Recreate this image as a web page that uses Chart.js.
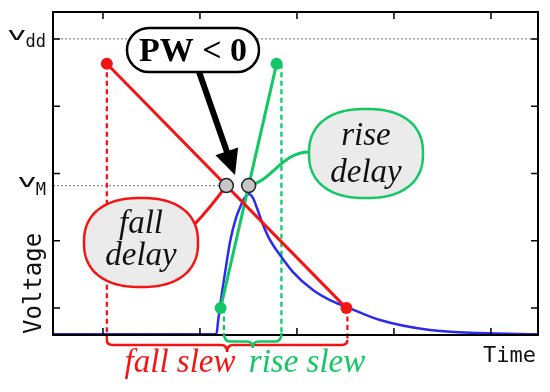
<!DOCTYPE html>
<html>
<head>
<meta charset="utf-8">
<script src="https://cdn.jsdelivr.net/npm/chart.js@4/dist/chart.umd.min.js"></script>
<style>
  body { margin: 0; background: #fff; }
</style>
</head>
<body>
<canvas id="myChart" width="550" height="392"></canvas>
<script>
// values, in tick units (ticks at 0..4 on both axes)
var xTicks = [0, 1, 2, 3, 4];
var yTicks = [0, 1, 2, 3, 4];
var vdd = 4.0;
var vm = 1.82;
// input ramp (fall) and fitted output ramp (rise)
var fallX = [0.04, 2.51];
var fallY = [3.63, 0.0];
var riseX = [1.213, 1.79];
var riseY = [0.0, 3.63];
// where the slew markers drop down to the braces
var fallSlewX = [0.04, 2.52];
var riseSlewX = [1.247, 1.84];
var fallSlewBottom = -0.475;
var riseSlewBottom = -0.37;
// 50% crossings
var delayX = [1.272, 1.502];
// simulated output waveform
var outX = [-0.515, 1.17, 1.186, 1.206, 1.258, 1.314, 1.371, 1.423, 1.464, 1.505, 1.546, 1.588, 1.639, 1.701, 1.763, 1.825, 1.959, 2.165, 2.34, 2.515, 2.856, 3.371, 3.887, 4.485];
var outY = [-0.387, -0.387, -0.208, 0.015, 0.52, 1.01, 1.337, 1.53, 1.649, 1.694, 1.636, 1.487, 1.279, 1.07, 0.915, 0.788, 0.535, 0.268, 0.119, 0.015, -0.178, -0.327, -0.372, -0.387];

var red = '#f41414', green = '#12c864', blue = '#2b2bef';
var serif = '"Liberation Serif", "DejaVu Serif", serif';
var mono = '"DejaVu Sans Mono", monospace';

function pts(xs, ys) {
  return xs.map(function (x, i) { return {x: x, y: ys[i]}; });
}
function dashed(x, y0, y1, col) {
  return {data: [{x: x, y: y0}, {x: x, y: y1}], showLine: true, borderColor: col, borderWidth: 2.3,
    borderDash: [5, 3.5], pointRadius: 0, clip: false, order: 4};
}

// superellipse outline for the call-outs
function blob(c, cx, cy, a, b, n) {
  c.beginPath();
  for (var i = 0; i <= 120; i++) {
    var t = i / 120 * Math.PI * 2;
    var ct = Math.cos(t), st = Math.sin(t);
    var x = cx + a * Math.sign(ct) * Math.pow(Math.abs(ct), 2 / n);
    var y = cy + b * Math.sign(st) * Math.pow(Math.abs(st), 2 / n);
    if (i === 0) c.moveTo(x, y); else c.lineTo(x, y);
  }
  c.closePath();
}

function bubble(c, x, y, w, h, col, lines, base) {
  c.save();
  blob(c, x + w / 2, y + h / 2, w / 2, h / 2, 2.35);
  c.fillStyle = '#ebebeb';
  c.fill();
  c.lineWidth = 2.5;
  c.strokeStyle = col;
  c.stroke();
  c.fillStyle = '#111';
  c.font = 'italic 33px ' + serif;
  c.textAlign = 'center';
  c.textBaseline = 'alphabetic';
  c.fillText(lines[0], x + w / 2, base[0]);
  c.fillText(lines[1], x + w / 2, base[1]);
  c.restore();
}

function brace(c, x1, x2, yTop, yMid, yTip, col) {
  var xm = (x1 + x2) / 2, r = 6;
  c.save();
  c.beginPath();
  c.moveTo(x1, yTop);
  c.quadraticCurveTo(x1, yMid, x1 + r, yMid);
  c.lineTo(xm - r, yMid);
  c.quadraticCurveTo(xm, yMid, xm, yTip);
  c.quadraticCurveTo(xm, yMid, xm + r, yMid);
  c.lineTo(x2 - r, yMid);
  c.quadraticCurveTo(x2, yMid, x2, yTop);
  c.lineWidth = 2.5;
  c.strokeStyle = col;
  c.stroke();
  c.restore();
}

function subLabel(c, big, small, xr, yb, ys) {
  c.save();
  c.fillStyle = '#111';
  c.textBaseline = 'alphabetic';
  c.textAlign = 'right';
  c.font = '17px ' + mono;
  c.fillText(small, xr, ys);
  var w = c.measureText(small).width;
  c.translate(xr - w + 1, yb);
  c.scale(1.8, 1);
  c.font = '18px ' + mono;
  c.fillText(big, 0, 0);
  c.restore();
}

var connectors = {
  id: 'connectors',
  beforeDatasetsDraw: function (chart) {
    var c = chart.ctx, xs = chart.scales.x, ys = chart.scales.y;
    var y = ys.getPixelForValue(vm);
    var x1 = xs.getPixelForValue(delayX[0]), x2 = xs.getPixelForValue(delayX[1]);
    c.save();
    c.lineWidth = 3;
    c.strokeStyle = red;
    c.beginPath();
    c.moveTo(193, 226);
    c.quadraticCurveTo(211, 207, x1, y);
    c.stroke();
    c.strokeStyle = green;
    c.beginPath();
    c.moveTo(312, 152);
    c.bezierCurveTo(282, 150, 272, 182, x2, y);
    c.stroke();
    c.restore();
  }
};

var decorations = {
  id: 'decorations',
  afterDatasetsDraw: function (chart) {
    var c = chart.ctx, a = chart.chartArea, xs = chart.scales.x, ys = chart.scales.y;
    c.save();
    // frame with inward ticks
    c.strokeStyle = '#000';
    c.lineWidth = 2;
    c.strokeRect(a.left, a.top, a.right - a.left, a.bottom - a.top);
    c.lineWidth = 1.5;
    c.beginPath();
    xTicks.forEach(function (t) {
      var px = xs.getPixelForValue(t);
      c.moveTo(px, a.bottom); c.lineTo(px, a.bottom - 7);
      c.moveTo(px, a.top); c.lineTo(px, a.top + 7);
    });
    yTicks.forEach(function (t) {
      var py = ys.getPixelForValue(t);
      c.moveTo(a.left, py); c.lineTo(a.left + 7, py);
      c.moveTo(a.right, py); c.lineTo(a.right - 7, py);
    });
    c.stroke();

    // axis labels
    subLabel(c, 'v', 'dd', 46, ys.getPixelForValue(vdd) + 1, ys.getPixelForValue(vdd) + 8);
    subLabel(c, 'v', 'M', 46, ys.getPixelForValue(vm) + 1.5, ys.getPixelForValue(vm) + 9.5);
    c.fillStyle = '#111';
    c.font = '22px ' + mono;
    c.textAlign = 'right';
    c.fillText('Time', 536, 362);
    c.save();
    c.translate(41, a.bottom - 1);
    c.rotate(-Math.PI / 2);
    c.textAlign = 'left';
    c.font = '24px ' + mono;
    c.fillText('Voltage', 0, 0);
    c.restore();

    // delay call-outs
    bubble(c, 84, 198, 114, 89, red, ['fall', 'delay'], [233, 265]);
    bubble(c, 309, 109, 114, 89, green, ['rise', 'delay'], [145, 182]);

    // arrow to the crossings
    var tipX = 235, tipY = 175, sx = 197, sy = 66;
    var dx = tipX - sx, dy = tipY - sy, len = Math.sqrt(dx * dx + dy * dy);
    var ux = dx / len, uy = dy / len, hl = 25, hw = 12;
    var bx = tipX - ux * hl, by = tipY - uy * hl;
    c.strokeStyle = '#000';
    c.lineWidth = 6;
    c.beginPath();
    c.moveTo(sx, sy);
    c.lineTo(bx + ux * 2, by + uy * 2);
    c.stroke();
    c.fillStyle = '#000';
    c.beginPath();
    c.moveTo(tipX, tipY);
    c.lineTo(bx - uy * hw, by + ux * hw);
    c.lineTo(bx + uy * hw, by - ux * hw);
    c.closePath();
    c.fill();

    // PW < 0 box
    c.beginPath();
    c.roundRect(127, 28, 132, 44, 22);
    c.fillStyle = '#fff';
    c.fill();
    c.lineWidth = 2.5;
    c.strokeStyle = '#000';
    c.stroke();
    c.fillStyle = '#000';
    c.font = 'bold 34px ' + serif;
    c.textAlign = 'center';
    c.fillText('PW < 0', 193, 61);

    // slew braces and labels
    brace(c, xs.getPixelForValue(fallSlewX[0]), xs.getPixelForValue(fallSlewX[1]),
      ys.getPixelForValue(fallSlewBottom), 345, 352, red);
    brace(c, xs.getPixelForValue(riseSlewX[0]), xs.getPixelForValue(riseSlewX[1]),
      ys.getPixelForValue(riseSlewBottom), 341.5, 348, green);
    c.font = 'italic 33px ' + serif;
    c.fillStyle = red;
    c.fillText('fall slew', 180, 372);
    c.fillStyle = green;
    c.fillText('rise slew', 307, 372);
    c.restore();
  }
};

var myChart = new Chart(document.getElementById('myChart').getContext('2d'), {
  type: 'scatter',
  data: {
    datasets: [
      {label: 'crossings', data: pts(delayX, [vm, vm]), showLine: false, pointRadius: 7,
        pointBackgroundColor: '#c6c6c6', pointBorderColor: '#222', pointBorderWidth: 1.5, order: 0},
      {label: 'fall', data: pts(fallX, fallY), showLine: true, borderColor: red, borderWidth: 3,
        pointRadius: 6, pointBackgroundColor: red, pointBorderWidth: 0, order: 1},
      {label: 'rise', data: pts(riseX, riseY), showLine: true, borderColor: green, borderWidth: 3,
        pointRadius: 6, pointBackgroundColor: green, pointBorderWidth: 0, order: 2},
      {label: 'output', data: pts(outX, outY), showLine: true, borderColor: blue, borderWidth: 2.5,
        pointRadius: 0, cubicInterpolationMode: 'monotone', order: 3},
      dashed(fallSlewX[0], fallY[0], fallSlewBottom, red),
      dashed(fallSlewX[1], fallY[1], fallSlewBottom, red),
      dashed(riseSlewX[0], riseY[0], riseSlewBottom, green),
      dashed(riseSlewX[1], riseY[1], riseSlewBottom, green),
      {label: 'vdd', data: [{x: -0.515, y: vdd}, {x: 4.485, y: vdd}], showLine: true,
        borderColor: '#888', borderWidth: 1.2, borderDash: [2, 2], pointRadius: 0, order: 5},
      {label: 'vm', data: [{x: -0.515, y: vm}, {x: delayX[0], y: vm}], showLine: true,
        borderColor: '#888', borderWidth: 1.2, borderDash: [2, 2], pointRadius: 0, order: 5}
    ]
  },
  options: {
    responsive: false,
    animation: false,
    layout: {padding: {left: 53, right: 12, top: 12, bottom: 57}},
    plugins: {legend: {display: false}, tooltip: {enabled: false}},
    scales: {
      x: {type: 'linear', min: -0.515, max: 4.485, display: false},
      y: {type: 'linear', min: -0.4, max: 4.4, display: false}
    }
  },
  plugins: [connectors, decorations]
});
</script>
</body>
</html>
